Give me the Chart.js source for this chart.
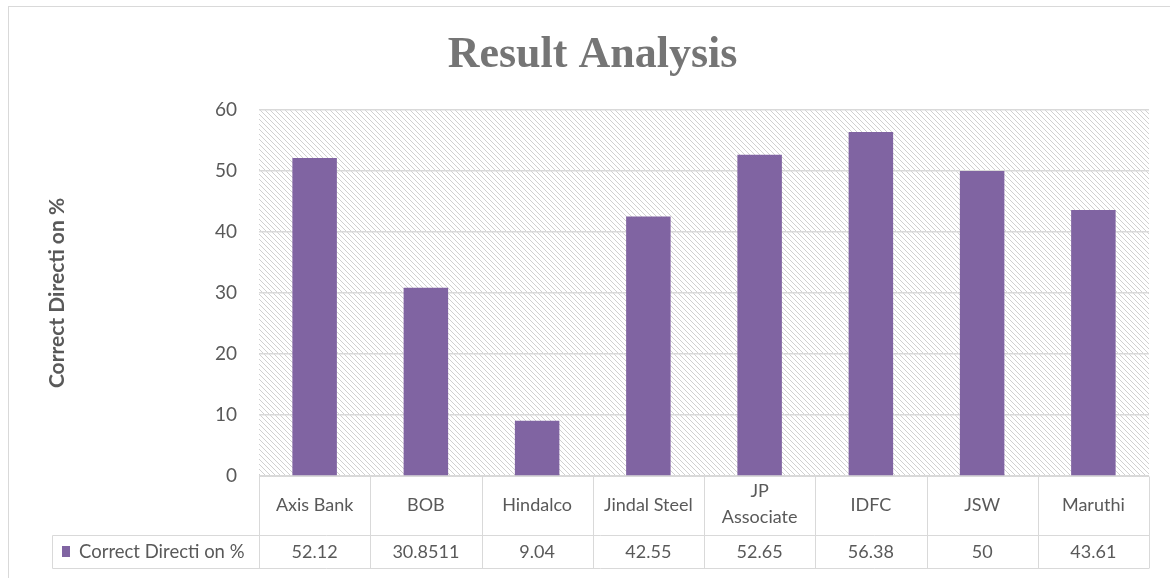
<!DOCTYPE html>
<html>
<head>
<meta charset="utf-8">
<script src="https://cdn.jsdelivr.net/npm/chart.js@4/dist/chart.umd.min.js"></script>
<style>
  html, body { margin: 0; padding: 0; background: #fff; }
  #wrap { width: 1170px; height: 578px; }
</style>
</head>
<body>
<div id="wrap"><canvas id="chart" width="1170" height="578"></canvas></div>
<script>
const categories = ["Axis Bank", "BOB", "Hindalco", "Jindal Steel", ["JP", "Associate"], "IDFC", "JSW", "Maruthi"];
const seriesName = "Correct Directi on %";
const values = [52.12, 30.8511, 9.04, 42.55, 52.65, 56.38, 50, 43.61];
const valueLabels = ["52.12", "30.8511", "9.04", "42.55", "52.65", "56.38", "50", "43.61"];
const yTicks = [0, 10, 20, 30, 40, 50, 60];

const barColor = "#8064A2";
const textColor = "#595959";
const lineColor = "#d9d9d9";

const makeHatch = () => {
  const c = document.createElement("canvas");
  c.width = 5;
  c.height = 5;
  const g = c.getContext("2d");
  g.fillStyle = "#ffffff";
  g.fillRect(0, 0, 5, 5);
  g.strokeStyle = "#d0d0d0";
  g.lineWidth = 1;
  g.beginPath();
  g.moveTo(-1, -1); g.lineTo(6, 6);
  g.moveTo(-1, 4); g.lineTo(1, 6);
  g.moveTo(4, -1); g.lineTo(6, 1);
  g.stroke();
  return c;
};

// hatched plot background + outer frame
const backdrop = {
  id: "backdrop",
  beforeDraw(chart) {
    const { ctx, chartArea: a } = chart;
    ctx.save();
    ctx.fillStyle = ctx.createPattern(makeHatch(), "repeat");
    ctx.fillRect(a.left, a.top, a.right - a.left, a.bottom - a.top);
    ctx.strokeStyle = lineColor;
    ctx.lineWidth = 1;
    ctx.strokeRect(8.5, 6.5, 1200, 700);
    ctx.restore();
  },
};

// data table under the plot, columns follow the x scale
const dataTable = {
  id: "dataTable",
  afterDraw(chart) {
    const { ctx, chartArea: a } = chart;
    const x = chart.scales.x;
    const n = categories.length;
    const w = (a.right - a.left) / n;
    const top = a.bottom + 0.5;
    const mid = 535.5;
    const bot = 568.5;
    const legendLeft = 52.5;

    ctx.save();
    ctx.strokeStyle = lineColor;
    ctx.lineWidth = 1;
    ctx.beginPath();
    ctx.moveTo(a.left, top); ctx.lineTo(a.right, top);
    ctx.moveTo(legendLeft, mid); ctx.lineTo(a.right, mid);
    ctx.moveTo(legendLeft, bot); ctx.lineTo(a.right, bot);
    ctx.moveTo(legendLeft, mid); ctx.lineTo(legendLeft, bot);
    for (let i = 0; i <= n; i++) {
      const px = Math.round(a.left + i * w) + 0.5;
      ctx.moveTo(px, top); ctx.lineTo(px, bot);
    }
    ctx.stroke();

    ctx.fillStyle = textColor;
    ctx.font = "18px Lato";
    ctx.textAlign = "center";
    ctx.textBaseline = "middle";
    for (let i = 0; i < n; i++) {
      const cx = x.getPixelForValue(i);
      const label = categories[i];
      if (Array.isArray(label)) {
        ctx.fillText(label[0], cx, 491);
        ctx.fillText(label[1], cx, 517);
      } else {
        ctx.fillText(label, cx, 505);
      }
      ctx.fillText(valueLabels[i], cx, 552);
    }

    ctx.fillStyle = barColor;
    ctx.fillRect(62, 546, 8, 11);
    ctx.fillStyle = textColor;
    ctx.textAlign = "left";
    ctx.font = "18.5px Lato";
    ctx.fillText(seriesName, 79, 552);
    ctx.restore();
  },
};

const data = {
  labels: categories,
  datasets: [
    {
      label: seriesName,
      data: values,
      backgroundColor: barColor,
      borderWidth: 0,
      categoryPercentage: 0.8,
      barPercentage: 0.5,
    },
  ],
};

const config = {
  type: "bar",
  data: data,
  plugins: [backdrop, dataTable],
  options: {
    responsive: false,
    animation: false,
    layout: { padding: { left: 36, right: 21, top: 0, bottom: 102 } },
    plugins: {
      legend: { display: false },
      tooltip: { enabled: false },
      title: {
        display: true,
        text: "Result Analysis",
        color: "#757575",
        font: { family: "Liberation Serif", size: 44, weight: "bold", lineHeight: 1.2 },
        padding: { top: 29, bottom: 28.2 },
      },
    },
    scales: {
      x: { display: false },
      y: {
        min: 0,
        max: 60,
        afterFit(scale) {
          scale.width = 223;
        },
        afterBuildTicks(scale) {
          scale.ticks = yTicks.map((v) => ({ value: v }));
        },
        border: { display: false },
        grid: { color: lineColor, lineWidth: 1.5, drawTicks: false },
        ticks: { color: textColor, font: { family: "Lato", size: 19 }, padding: 22 },
        title: {
          display: true,
          text: seriesName,
          color: textColor,
          font: { family: "Lato", size: 21, weight: "bold" },
          padding: { top: 9, bottom: 0 },
        },
      },
    },
  },
};

new Chart(document.getElementById("chart"), config);
</script>
</body>
</html>
